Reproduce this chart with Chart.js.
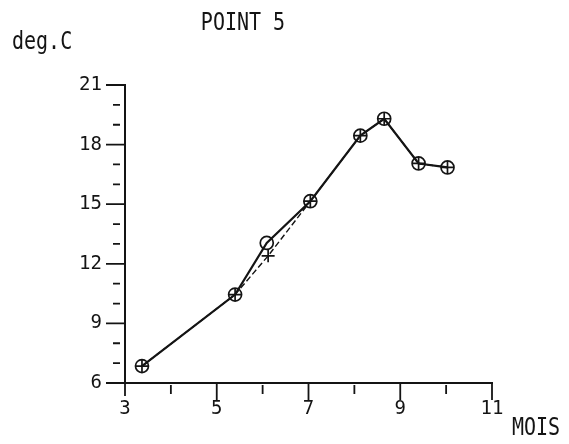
<!DOCTYPE html>
<html>
<head>
<meta charset="utf-8">
<script src="https://cdn.jsdelivr.net/npm/chart.js@4"></script>
<style>
html,body{margin:0;padding:0;background:#fff;}
#wrap{width:569px;height:444px;position:relative;}
</style>
</head>
<body>
<div id="wrap"><canvas id="c" width="569" height="444"></canvas></div>
<script>
const titleText = "POINT 5";
const yUnit = "deg.C";
const xUnit = "MOIS";
const months = [3.37, 5.40, 6.09, 7.04, 8.13, 8.65, 9.40, 10.03];
const circleTemps = [6.85, 10.45, 13.05, 15.15, 18.45, 19.30, 17.05, 16.85];
const crossMonths = [3.37, 5.40, 6.12, 7.04, 8.13, 8.65, 9.40, 10.03];
const crossTemps = [6.85, 10.45, 12.40, 15.15, 18.45, 19.30, 17.05, 16.85];
const xMajor = [3, 5, 7, 9, 11];
const yMajor = [6, 9, 12, 15, 18, 21];

const ink = "#141414";
const FONT = "'DejaVu Sans Mono', 'Liberation Mono', monospace";

function tallText(ctx, text, x, baseline, align) {
  ctx.save();
  ctx.textAlign = align;
  ctx.textBaseline = "alphabetic";
  ctx.translate(x, baseline);
  ctx.scale(1, 1.2);
  ctx.fillText(text, 0, 0);
  ctx.restore();
}

const decor = {
  id: "decor",
  afterDraw(chart) {
    const ctx = chart.ctx;
    const xs = chart.scales.x, ys = chart.scales.y;
    const ax = xs.getPixelForValue(3), ay = ys.getPixelForValue(6);
    ctx.save();
    ctx.strokeStyle = ink;
    ctx.lineWidth = 1.8;
    ctx.beginPath();
    for (let v = 6; v <= 21; v++) {
      const py = ys.getPixelForValue(v);
      if (yMajor.includes(v)) { ctx.moveTo(ax - 19, py); ctx.lineTo(ax, py); }
      else { ctx.moveTo(ax - 12, py); ctx.lineTo(ax - 5, py); }
    }
    for (let v = 3; v <= 11; v++) {
      const px = xs.getPixelForValue(v);
      if (xMajor.includes(v)) { ctx.moveTo(px, ay); ctx.lineTo(px, ay + (v === 3 ? 13 : 17)); }
      else { ctx.moveTo(px, ay + 2); ctx.lineTo(px, ay + 11); }
    }
    ctx.stroke();
    ctx.fillStyle = ink;
    ctx.font = "20px " + FONT;
    tallText(ctx, titleText, 243, 30, "center");
    tallText(ctx, yUnit, 12, 49, "left");
    tallText(ctx, xUnit, 512, 435, "left");
    ctx.restore();
  }
};

new Chart(document.getElementById("c"), {
  type: "scatter",
  data: {
    datasets: [
      {
        label: "circles",
        data: months.map((m, i) => ({ x: m, y: circleTemps[i] })),
        showLine: true,
        borderColor: ink,
        backgroundColor: "rgba(0,0,0,0)",
        borderWidth: 2.2,
        pointStyle: "circle",
        pointRadius: 6.5,
        pointBorderWidth: 1.7,
        pointBorderColor: ink
      },
      {
        label: "crosses",
        data: crossMonths.map((m, i) => ({ x: m, y: crossTemps[i] })),
        showLine: true,
        borderColor: ink,
        borderWidth: 1.4,
        borderDash: [6, 3],
        pointStyle: "cross",
        pointRadius: 6.5,
        pointBorderWidth: 1.7,
        pointBorderColor: ink
      }
    ]
  },
  options: {
    responsive: false,
    animation: false,
    layout: { padding: { left: 0, right: 77, top: 85, bottom: 0 } },
    plugins: { legend: { display: false }, tooltip: { enabled: false }, title: { display: false } },
    scales: {
      x: {
        type: "linear", min: 3, max: 11,
        grid: { display: false, drawTicks: false },
        border: { display: true, color: ink, width: 2 },
        afterFit: (s) => { s.height = 61; },
        ticks: {
          stepSize: 1, padding: 15, color: ink, maxRotation: 0, autoSkip: false,
          font: { family: FONT, size: 19 },
          callback: (v) => (xMajor.includes(v) ? String(v) : "")
        }
      },
      y: {
        type: "linear", min: 6, max: 21,
        grid: { display: false, drawTicks: false },
        border: { display: true, color: ink, width: 2 },
        afterFit: (s) => { s.width = 125; },
        ticks: {
          stepSize: 1, padding: 23, color: ink, autoSkip: false,
          font: { family: FONT, size: 19 },
          callback: (v) => (yMajor.includes(v) ? String(v) : "")
        }
      }
    }
  },
  plugins: [decor]
});
</script>
</body>
</html>
